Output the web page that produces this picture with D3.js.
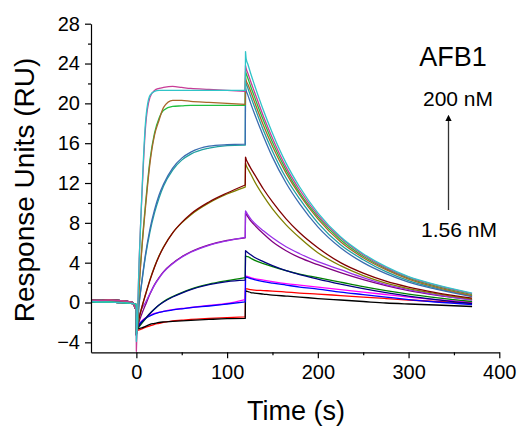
<!DOCTYPE html>
<html>
<head>
<meta charset="utf-8">
<script src="https://cdn.jsdelivr.net/npm/d3@7/dist/d3.min.js"></script>
<style>
    body { margin: 0; background: #fff; }
    text { font-family: "Liberation Sans", Arial, sans-serif; fill: #000; }
</style>
</head>
<body>
<svg id="chart" width="520" height="428"></svg>
<script>
"use strict"

// sample times of each phase (s)
const baselineTimes = [-50, -40, -30, -20, -10, -4, -1, -0.2];
const associationTimes = [0, 0.8, 3, 6, 10, 15, 20, 25, 30, 40, 50, 60, 80, 100, 120];
const dissociationTimes = [120.3, 121, 123, 126, 130, 140, 150, 165, 180, 200, 225, 250, 275, 300, 330, 370];

// baseline before injection (RU), one for measured curves, one for fits
const baselineMeasured = [0.25, 0.2, 0.25, 0.2, 0.1, 0.0, -0.6, -0.7];
const baselineFitted = [0.1, 0.05, 0.05, 0.0, -0.05, -0.1, -0.15, -0.2];

// one entry per drawn curve, lowest concentration first
const seriesNames = [
    "1.56 nM fit", "1.56 nM", "3.125 nM fit", "3.125 nM",
    "6.25 nM", "6.25 nM fit", "12.5 nM", "12.5 nM fit",
    "25 nM fit", "25 nM", "50 nM fit", "50 nM",
    "100 nM fit", "100 nM", "200 nM", "200 nM fit"
];
const seriesMeasured = [false, true, false, true, true, false, true, false,
    false, true, false, true, false, true, true, false];

const associationValues = [
    [-3.0, -2.8, -2.75, -2.65, -2.5, -2.35, -2.2, -2.1, -2.0, -1.85, -1.78, -1.7, -1.6, -1.52, -1.45],
    [-3.3, -2.7, -2.6, -2.55, -2.4, -2.2, -2.1, -2.0, -1.95, -1.9, -1.85, -1.8, -1.7, -1.62, -1.6],
    [-3.0, -2.5, -2.2, -1.85, -1.55, -1.3, -1.1, -0.98, -0.88, -0.72, -0.6, -0.5, -0.3, -0.1, 0.3],
    [-3.2, -2.6, -2.2, -1.9, -1.6, -1.35, -1.15, -1.0, -0.9, -0.75, -0.63, -0.52, -0.35, -0.15, 0.06],
    [-3.0, -2.7, -2.45, -2.1, -1.65, -1.1, -0.65, -0.25, 0.1, 0.6, 1.0, 1.35, 1.85, 2.2, 2.5],
    [-3.2, -2.6, -2.35, -2.0, -1.6, -1.1, -0.65, -0.25, 0.05, 0.55, 0.95, 1.3, 1.8, 2.1, 2.25],
    [-3.0, -2.7, -1.95, -1.15, -0.25, 0.85, 1.8, 2.5, 3.1, 3.95, 4.6, 5.1, 5.8, 6.25, 6.5],
    [-3.3, -2.0, -1.3, -0.6, 0.0, 0.9, 1.75, 2.45, 3.05, 3.9, 4.55, 5.05, 5.75, 6.2, 6.55],
    [-3.0, -2.7, -1.6, -0.5, 0.8, 2.3, 3.6, 4.7, 5.6, 7.0, 8.0, 8.8, 10.0, 10.9, 11.6],
    [-3.2, -2.7, -1.6, -0.5, 0.75, 2.25, 3.55, 4.65, 5.55, 7.0, 8.05, 8.9, 10.1, 11.0, 11.8],
    [-3.0, -2.7, -0.2, 2.0, 4.6, 7.1, 9.0, 10.5, 11.7, 13.3, 14.3, 14.9, 15.5, 15.75, 15.8],
    [-3.2, -2.7, -0.1, 2.1, 4.8, 7.4, 9.3, 10.8, 11.9, 13.5, 14.5, 15.1, 15.7, 15.85, 15.9],
    [-3.0, -2.7, 1.5, 5.5, 9.8, 14.3, 17.0, 18.5, 19.3, 19.7, 19.75, 19.8, 19.8, 19.8, 19.8],
    [-3.2, -2.7, 1.4, 5.3, 9.5, 14.0, 16.8, 18.3, 19.6, 20.3, 20.3, 20.2, 20.1, 20.0, 19.9],
    [-4.9, -2.7, 4.0, 10.5, 17.5, 20.6, 21.3, 21.5, 21.6, 21.7, 21.6, 21.5, 21.4, 21.3, 21.2],
    [-3.9, -2.7, 4.0, 10.8, 18.0, 20.8, 21.2, 21.3, 21.3, 21.3, 21.3, 21.3, 21.3, 21.3, 21.3]
];

const dissociationValues = [
    [1.4, 1.38, 1.35, 1.3, 1.25, 1.2, 1.15, 1.05, 0.95, 0.85, 0.7, 0.55, 0.4, 0.25, 0.1, -0.05],
    [1.2, 1.15, 1.1, 1.0, 0.95, 0.85, 0.75, 0.65, 0.55, 0.4, 0.25, 0.1, -0.05, -0.15, -0.25, -0.4],
    [2.7, 2.65, 2.6, 2.5, 2.4, 2.25, 2.1, 1.9, 1.75, 1.55, 1.3, 1.05, 0.8, 0.55, 0.3, 0.05],
    [2.6, 2.55, 2.5, 2.4, 2.3, 2.1, 1.95, 1.75, 1.55, 1.35, 1.05, 0.8, 0.55, 0.3, 0.05, -0.2],
    [4.7, 4.65, 4.6, 4.45, 4.25, 3.9, 3.6, 3.2, 2.85, 2.5, 2.05, 1.6, 1.2, 0.85, 0.5, 0.1],
    [5.2, 5.15, 5.0, 4.8, 4.55, 4.1, 3.7, 3.2, 2.8, 2.35, 1.85, 1.4, 1.0, 0.65, 0.3, -0.1],
    [9.0, 8.9, 8.6, 8.2, 7.8, 6.9, 6.1, 5.2, 4.5, 3.8, 3.0, 2.3, 1.7, 1.2, 0.75, 0.3],
    [9.2, 9.1, 8.8, 8.4, 8.0, 7.2, 6.5, 5.6, 4.9, 4.1, 3.3, 2.5, 1.8, 1.3, 0.8, 0.25],
    [14.0, 13.8, 13.4, 12.9, 12.2, 10.7, 9.4, 7.8, 6.5, 5.0, 3.7, 2.7, 1.95, 1.4, 0.9, 0.35],
    [14.6, 14.4, 14.0, 13.5, 12.9, 11.4, 10.1, 8.4, 7.0, 5.5, 4.0, 2.95, 2.15, 1.55, 1.0, 0.45],
    [22.2, 22.0, 21.5, 20.7, 19.7, 17.3, 15.2, 12.5, 10.4, 8.0, 5.8, 4.3, 3.1, 2.2, 1.45, 0.65],
    [21.6, 21.3, 20.8, 20.0, 19.0, 16.7, 14.6, 12.0, 9.9, 7.6, 5.5, 4.0, 2.9, 2.05, 1.35, 0.6],
    [23.2, 23.0, 22.5, 21.7, 20.7, 18.3, 16.1, 13.3, 11.0, 8.6, 6.3, 4.65, 3.4, 2.45, 1.65, 0.8],
    [22.6, 22.3, 21.9, 21.2, 20.2, 17.8, 15.7, 13.0, 10.8, 8.4, 6.1, 4.5, 3.3, 2.35, 1.55, 0.7],
    [23.8, 23.5, 23.0, 22.2, 21.2, 18.7, 16.5, 13.6, 11.3, 8.8, 6.5, 4.8, 3.5, 2.55, 1.75, 0.9],
    [25.2, 24.5, 23.9, 23.0, 21.9, 19.3, 17.0, 14.0, 11.6, 9.0, 6.6, 4.9, 3.6, 2.6, 1.8, 0.95]
];

const seriesColors = [
    "#ff0000", "#000000", "#ff00ff", "#0000ff",
    "#008000", "#000080", "#800080", "#9a30e8",
    "#808000", "#800000", "#20a0a0", "#3a6cb0",
    "#20c040", "#a8662a", "#c83c96", "#30c4c8"
];

const xTicks = [0, 100, 200, 300, 400];
const yTicks = [-4, 0, 4, 8, 12, 16, 20, 24, 28];

// annotation text
const titleText = "AFB1";
const highLabel = "200 nM";
const lowLabel = "1.56 nM";

let svg = d3.select("#chart");

let xScale = d3.scaleLinear().domain([-50, 400]).range([91, 499.3]);
let yScale = d3.scaleLinear().domain([-5, 28]).range([352.3, 23.7]);

/* axes with long major and short minor ticks */
function drawAxes() {
    let yMinor = d3.range(-4, 29, 2).filter(v => yTicks.indexOf(v) < 0);
    let xMinor = d3.range(50, 400, 100);

    let yAxisG = svg.append("g")
        .attr("transform", "translate(" + xScale.range()[0] + ",0)")
        .call(d3.axisLeft(yScale).tickValues(yTicks).tickSize(6).tickSizeOuter(0).tickPadding(5));
    svg.append("g")
        .attr("transform", "translate(" + xScale.range()[0] + ",0)")
        .call(d3.axisLeft(yScale).tickValues(yMinor).tickSize(3).tickSizeOuter(0).tickFormat(""))
        .select(".domain").remove();

    let xAxisG = svg.append("g")
        .attr("transform", "translate(0," + yScale.range()[0] + ")")
        .call(d3.axisBottom(xScale).tickValues(xTicks).tickSize(6).tickSizeOuter(0).tickPadding(7));
    svg.append("g")
        .attr("transform", "translate(0," + yScale.range()[0] + ")")
        .call(d3.axisBottom(xScale).tickValues(xMinor).tickSize(3).tickSizeOuter(0).tickFormat(""))
        .select(".domain").remove();

    svg.selectAll(".tick line, .domain")
        .style("stroke", "#000")
        .style("stroke-width", "1.2px");

    yAxisG.selectAll("text").style("font-size", "20px").attr("font-family", null);
    xAxisG.selectAll("text").style("font-size", "20px").attr("font-family", null);

    svg.append("text")
        .attr("x", 296)
        .attr("y", 420)
        .style("font-size", "27px")
        .style("text-anchor", "middle")
        .text("Time (s)");

    svg.append("text")
        .attr("transform", "translate(34,190) rotate(-90)")
        .style("font-size", "28px")
        .style("text-anchor", "middle")
        .text("Response Units (RU)");
}

/* one path per curve: baseline, injection, dissociation joined */
function drawCurves() {
    let line = d3.line()
        .x(d => xScale(d[0]))
        .y(d => yScale(d[1]))
        .curve(d3.curveMonotoneX);

    let curveGroup = svg.append("g").attr("class", "curves");

    seriesNames.forEach(function(name, i) {
        let base = seriesMeasured[i] ? baselineMeasured : baselineFitted;
        let parts = [
            line(baselineTimes.map((t, j) => [t, base[j]])),
            line(associationTimes.map((t, j) => [t, associationValues[i][j]])),
            line(dissociationTimes.map((t, j) => [t, dissociationValues[i][j]]))
        ];
        let pathString = parts[0] + parts[1].replace(/^M/, "L") + parts[2].replace(/^M/, "L");

        curveGroup.append("path")
            .attr("d", pathString)
            .attr("fill", "none")
            .attr("stroke", seriesColors[i])
            .attr("stroke-width", 1.3)
            .attr("stroke-linejoin", "round")
            .append("title").text(name);
    });
}

/* concentration arrow and labels */
function drawAnnotation() {
    svg.append("defs").append("marker")
        .attr("id", "arrowHead")
        .attr("viewBox", "0 0 10 10")
        .attr("refX", 5)
        .attr("refY", 5)
        .attr("markerWidth", 5)
        .attr("markerHeight", 7)
        .attr("orient", "auto")
        .append("path")
        .attr("d", "M0,0 L10,5 L0,10 Z")
        .attr("fill", "#000");

    svg.append("line")
        .attr("x1", 448.5)
        .attr("y1", 210)
        .attr("x2", 448.5)
        .attr("y2", 118)
        .attr("stroke", "#333")
        .attr("stroke-width", 1.3)
        .attr("marker-end", "url(#arrowHead)");

    svg.append("text")
        .attr("x", 453)
        .attr("y", 66)
        .style("font-size", "27px")
        .style("text-anchor", "middle")
        .text(titleText);

    svg.append("text")
        .attr("x", 458)
        .attr("y", 106)
        .style("font-size", "21px")
        .style("text-anchor", "middle")
        .text(highLabel);

    svg.append("text")
        .attr("x", 459)
        .attr("y", 237)
        .style("font-size", "21px")
        .style("text-anchor", "middle")
        .text(lowLabel);
}

drawCurves();
drawAxes();
drawAnnotation();
</script>
</body>
</html>
